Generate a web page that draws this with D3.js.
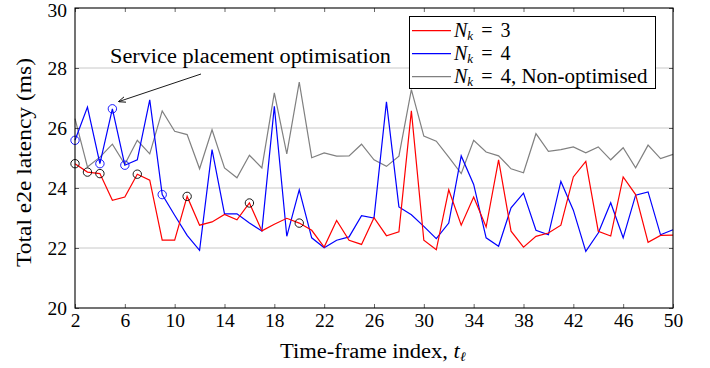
<!DOCTYPE html>
<html>
<head>
<meta charset="utf-8">
<script src="https://cdn.jsdelivr.net/npm/d3@7"></script>
<style>
  body { margin: 0; background: #fff; }
</style>
</head>
<body>
<svg id="chart" width="710" height="368"></svg>
<script>
// time-frame index 2..50
const frames = d3.range(2, 51);

const nk3 = [24.81, 24.53, 24.48, 23.59, 23.70, 24.46, 24.26, 22.26, 22.26, 23.72,
  22.76, 22.87, 23.12, 22.94, 23.50, 22.57, 22.79, 22.99, 22.83, 22.59,
  22.03, 22.92, 22.26, 22.12, 23.01, 22.41, 22.54, 26.57, 22.26, 21.94,
  23.94, 22.76, 23.70, 22.70, 24.94, 22.56, 22.03, 22.39, 22.50, 22.76,
  24.37, 24.89, 22.56, 22.40, 24.37, 23.78, 22.19, 22.42, 22.43];

const nk4 = [25.59, 26.70, 24.81, 26.64, 24.76, 24.94, 26.94, 23.78, 23.09, 22.42,
  21.92, 25.28, 23.14, 23.14, 22.83, 22.57, 26.72, 22.39, 23.94, 22.34,
  22.01, 22.26, 22.37, 23.08, 23.00, 26.87, 23.37, 23.11, 22.72, 22.31,
  22.83, 25.07, 24.12, 22.34, 22.06, 23.34, 23.83, 22.59, 22.44, 24.22,
  23.26, 21.89, 22.50, 23.51, 22.34, 23.76, 23.87, 22.44, 22.61];

const nk4NonOpt = [26.31, 24.70, 25.03, 25.46, 24.79, 25.59, 25.14, 26.57, 25.89, 25.78,
  24.64, 25.94, 24.67, 24.34, 25.09, 24.67, 27.17, 25.14, 27.53, 25.01,
  25.17, 25.06, 25.07, 25.46, 24.94, 24.72, 25.06, 27.28, 25.73, 25.56,
  25.03, 24.48, 25.59, 25.20, 25.07, 24.64, 24.51, 25.81, 25.22, 25.28,
  25.37, 25.17, 25.37, 24.94, 25.34, 24.67, 25.43, 24.98, 25.12];

// marked frames
const redMarks = [2, 3, 4, 7, 11, 16, 20];
const blueMarks = [2, 4, 5, 6, 9];

const xTicks = d3.range(2, 51, 4);
const yTicks = [20, 22, 24, 26, 28, 30];
const gridVals = [22, 24, 26, 28];

const series = [
  {label: "3", values: nk3, color: "#ff0000"},
  {label: "4", values: nk4, color: "#0000ff"},
  {label: "4, Non-optimised", values: nk4NonOpt, color: "#808080"}
];

const serif = "'Liberation Serif'";
const svg = d3.select("#chart");
const mLeft = 75, mRight = 673, mTop = 8, mBottom = 308;

const x = d3.scaleLinear().domain([2, 50]).range([mLeft, mRight]);
const y = d3.scaleLinear().domain([20, 30]).range([mBottom, mTop]);

// grid
svg.append("g").selectAll("line").data(gridVals).join("line")
  .attr("x1", mLeft).attr("x2", mRight)
  .attr("y1", d => y(d)).attr("y2", d => y(d))
  .attr("stroke", "#c8c8c8").attr("stroke-width", 1);

// series lines
const line = d3.line().x((d, i) => x(frames[i])).y(d => y(d));
svg.append("g").selectAll("path").data(series.slice().reverse()).join("path")
  .attr("d", d => line(d.values))
  .attr("fill", "none")
  .attr("stroke", d => d.color)
  .attr("stroke-width", 1.2)
  .attr("stroke-linejoin", "miter");

// markers
svg.append("g").selectAll("circle").data(redMarks).join("circle")
  .attr("cx", d => x(d)).attr("cy", d => y(nk3[d - 2]))
  .attr("r", 4.2).attr("fill", "none").attr("stroke", "#000").attr("stroke-width", 0.9);
svg.append("g").selectAll("circle").data(blueMarks).join("circle")
  .attr("cx", d => x(d)).attr("cy", d => y(nk4[d - 2]))
  .attr("r", 4.2).attr("fill", "none").attr("stroke", "#0000ff").attr("stroke-width", 0.9);

// axes
const xb = svg.append("g").attr("transform", `translate(0,${mBottom})`)
  .call(d3.axisBottom(x).tickValues(xTicks).tickSizeInner(-4).tickSizeOuter(0).tickPadding(5));
const xt = svg.append("g").attr("transform", `translate(0,${mTop})`)
  .call(d3.axisTop(x).tickValues(xTicks).tickSizeInner(-4).tickSizeOuter(0).tickFormat(""));
const yl = svg.append("g").attr("transform", `translate(${mLeft},0)`)
  .call(d3.axisLeft(y).tickValues(yTicks).tickSizeInner(-4).tickSizeOuter(0).tickPadding(8));
const yr = svg.append("g").attr("transform", `translate(${mRight},0)`)
  .call(d3.axisRight(y).tickValues(yTicks).tickSizeInner(-4).tickSizeOuter(0).tickFormat(""));
[xb, xt, yl, yr].forEach(g => {
  g.attr("font-family", null).attr("font-size", null);
  g.select(".domain").remove();
  g.selectAll("line").attr("stroke", "#000").attr("stroke-width", 0.6);
  g.selectAll("text").attr("fill", "#000")
    .style("font-family", serif).style("font-size", "19.5px");
});
// keep the top y label inside the picture
yl.selectAll(".tick").filter(d => d === 30).select("text").attr("dy", "0.45em");
svg.append("rect").attr("x", mLeft).attr("y", mTop)
  .attr("width", mRight - mLeft).attr("height", mBottom - mTop)
  .attr("fill", "none").attr("stroke", "#000").attr("stroke-width", 1.1);

// axis titles
svg.append("text").attr("x", 280).attr("y", 358)
  .style("font-family", serif).style("font-size", "20px")
  .attr("textLength", 186).attr("lengthAdjust", "spacingAndGlyphs")
  .html('Time-frame index, <tspan font-style="italic">t</tspan><tspan font-style="italic" font-size="13" dy="3">ℓ</tspan>');
svg.append("text").attr("transform", `translate(31,162.5) rotate(-90)`)
  .attr("text-anchor", "middle")
  .style("font-family", serif).style("font-size", "20px")
  .attr("textLength", 209).attr("lengthAdjust", "spacingAndGlyphs")
  .text("Total e2e latency (ms)");

// annotation
svg.append("defs").append("marker").attr("id", "arr")
  .attr("viewBox", "0 0 10 10").attr("refX", 9).attr("refY", 5)
  .attr("markerWidth", 8).attr("markerHeight", 8).attr("orient", "auto")
  .append("path").attr("d", "M0,1 L10,5 L0,9").attr("fill", "none").attr("stroke", "#000").attr("stroke-width", 1.2);
svg.append("text").attr("x", 110).attr("y", 63)
  .style("font-family", serif).style("font-size", "20px")
  .attr("textLength", 281).attr("lengthAdjust", "spacingAndGlyphs")
  .text("Service placement optimisation");
svg.append("line").attr("x1", 201).attr("y1", 74).attr("x2", 119).attr("y2", 101.5)
  .attr("stroke", "#000").attr("stroke-width", 0.9).attr("marker-end", "url(#arr)");

// legend
const lg = svg.append("g");
lg.append("rect").attr("x", 409.5).attr("y", 16.5).attr("width", 246).attr("height", 72)
  .attr("fill", "#fff").attr("stroke", "#000").attr("stroke-width", 1);
const rows = lg.selectAll("g.row").data(series).join("g").attr("class", "row")
  .attr("transform", (d, i) => `translate(0,${30.7 + i * 23})`);
rows.append("line").attr("x1", 412).attr("x2", 451).attr("y1", 0).attr("y2", 0)
  .attr("stroke", d => d.color).attr("stroke-width", 1.2);
const lt = rows.append("text").attr("x", 454).attr("y", 6)
  .style("font-family", serif).style("font-size", "20px");
lt.append("tspan").attr("font-style", "italic").text("N");
lt.append("tspan").attr("font-style", "italic").attr("font-size", 13).attr("dy", 3).text("k");
lt.append("tspan").attr("dy", -3).attr("dx", 8).text("=");
lt.append("tspan").attr("dx", 8).text(d => d.label)
  .filter(d => d.label.length > 1)
  .attr("textLength", 147).attr("lengthAdjust", "spacingAndGlyphs");
</script>
</body>
</html>
